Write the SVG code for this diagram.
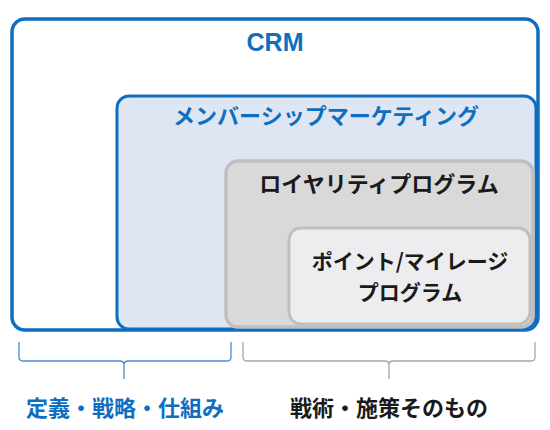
<svg xmlns="http://www.w3.org/2000/svg" width="550" height="430" viewBox="0 0 550 430">
<style>
.t{font-family:"Noto Sans CJK JP","Noto Sans",sans-serif;font-weight:bold;text-anchor:middle;dominant-baseline:central;font-size:22px}
.blue{fill:#0F6EC0}
.blk{fill:#1A1A1A}
.brace{fill:none;stroke-width:1.3;stroke-linejoin:round}
</style>
<rect width="550" height="430" fill="#FFFFFF"/>
<g id="crm">
<rect x="12" y="19" width="526" height="311" rx="13" fill="#FFFFFF" stroke="#0F6EC0" stroke-width="3.5"/>
<text class="t blue" x="275" y="42" style="font-size:25px;font-family:'Liberation Sans',sans-serif">CRM</text>
</g>
<g id="membership">
<rect x="117" y="96" width="419" height="233" rx="12" fill="#DFE6F3" stroke="#0F6EC0" stroke-width="3"/>
<text class="t blue" x="326" y="114">メンバーシップマーケティング</text>
</g>
<g id="loyalty">
<rect x="226" y="161" width="307" height="166" rx="12" fill="#D9D9D9" stroke="#BFBFBF" stroke-width="3.5"/>
<text class="t blk" x="379" y="182">ロイヤリティプログラム</text>
</g>
<g id="point">
<rect x="289" y="228" width="241" height="96" rx="12" fill="#EDEDF0" stroke="#BFBFBF" stroke-width="3"/>
<text class="t blk" x="410" y="260" style="font-size:21px">ポイント/マイレージ</text>
<text class="t blk" x="410" y="291" style="font-size:21px">プログラム</text>
</g>
<g id="connectors">
<path class="brace" stroke="#4A8CCF" d="M19,342 V357 Q19,361 23,361 H120 Q124,361 124,365 V379 M124,365 Q124,361 128,361 H227 Q231,361 231,357 V342"/>
<path class="brace" stroke="#A6A6A6" d="M243,342 V357 Q243,361 247,361 H385 Q389,361 389,365 V379 M389,365 Q389,361 393,361 H531 Q535,361 535,357 V342"/>
</g>
<g id="labels">
<text class="t blue" x="125" y="406">定義・戦略・仕組み</text>
<text class="t blk" x="389" y="406">戦術・施策そのもの</text>
</g>
</svg>
